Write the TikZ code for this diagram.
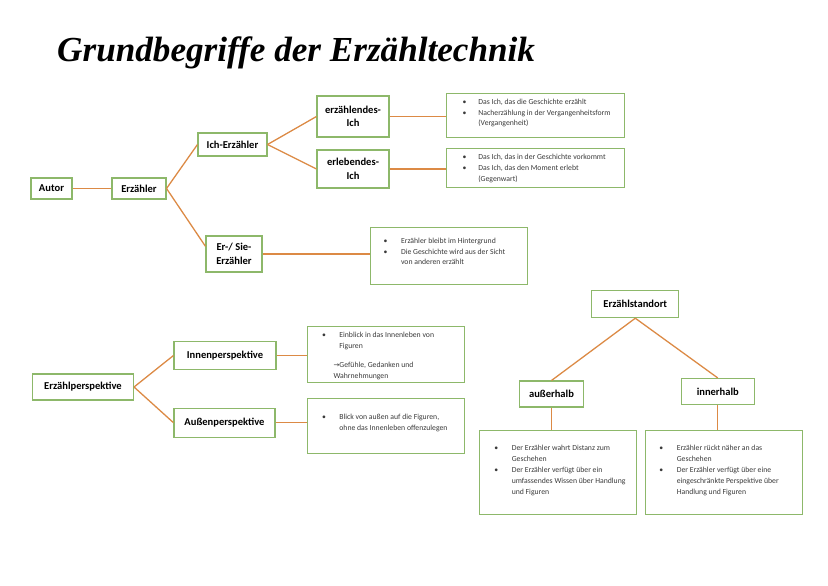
\documentclass[tikz,border=0pt]{standalone}
\usepackage{fontspec}
\setmainfont{Carlito}
\newfontfamily\titlefont{Liberation Serif}
\newfontfamily\symfont{DejaVu Sans}
\usetikzlibrary{positioning}
\definecolor{boxgreen}{HTML}{8DB86A}
\definecolor{linkorange}{HTML}{DC8A45}
\definecolor{notegray}{HTML}{3A3A3A}

\def \px {0.03cm} % one pixel of the sheet
\newcommand{\bul}[1][0.52cm]{\makebox[#1][l]{\textbullet}}

\begin{document}
\begin{tikzpicture}[x=\px, y=-\px,
  box/.style={draw=boxgreen, line width=0.9pt, inner sep=0pt, align=center,
    font=\bfseries\fontsize{9}{11.4}\selectfont},
  infobox/.style={draw=boxgreen, line width=0.9pt, inner sep=0pt, anchor=north west},
  note/.style={anchor=base west, inner sep=0pt, text=notegray,
    font=\fontsize{6.6}{9.3}\selectfont},
  link/.style={draw=linkorange, line width=1.1pt},
  wh/.style 2 args={minimum width=#1*\px, minimum height=#2*\px}]

\fill[white] (0,0) rectangle (828,586);
\useasboundingbox (0,0) rectangle (828,586);

\node[anchor=base west, inner sep=0pt,
  font=\titlefont\bfseries\itshape\fontsize{30}{32}\selectfont] (title) at (57,61)
  {Grundbegriffe der Erzähltechnik};

% Erzaehler
\node[box, wh={41}{21}] (autor) at (51.5,188.5) {Autor};
\node[box, wh={54}{21}] (erz) at (139,188.5) {Erzähler};
\node[box, wh={69}{23}] (ich) at (232.5,144.5) {Ich-Erzähler};
\node[box, wh={72}{41}] (erzich) at (353,116.5) {erzählendes-\\Ich};
\node[box, wh={72}{38}] (erlich) at (353,169) {erlebendes-\\Ich};
\node[box, wh={56}{36}] (ersie) at (234,254) {Er-/ Sie-\\Erzähler};

\node[infobox, wh={178}{44}] (erzinfo) at (446,93) {};
\node[infobox, wh={178}{39}] (erlinfo) at (446,148) {};
\node[infobox, wh={157}{57}] (ersieinfo) at (370,227) {};

\node[note] (erztext) at (462.5,104.2) {\begin{tabular}[t]{@{}l@{}l@{}}
  \bul[0.47cm] & Das Ich, das die Geschichte erzählt\\
  \bul[0.47cm] & Nacherzählung in der Vergangenheitsform\\
  & (Vergangenheit)
\end{tabular}};
\node[note] (erltext) at (462.5,159.8) {\begin{tabular}[t]{@{}l@{}l@{}}
  \bul[0.47cm] & Das Ich, das in der Geschichte vorkommt\\
  \bul[0.47cm] & Das Ich, das den Moment erlebt\\
  & (Gegenwart)
\end{tabular}};
\node[note] (ersietext) at (383.5,243.2) {\begin{tabular}[t]{@{}l@{}l@{}}
  \bul & Erzähler bleibt im Hintergrund\\
  \bul & Die Geschichte wird aus der Sicht\\
  & von anderen erzählt
\end{tabular}};

\draw[link] (autor) -- (erz);
\draw[link] (erz.east) -- (ich.west);
\draw[link] (erz.east) -- (ersie.165);
\draw[link] (ich.east) -- (erzich.west);
\draw[link] (ich.east) -- (erlich.west);
\draw[link] (erzich.east) -- (erzich.east -| erzinfo.west);
\draw[link] (erlich.east) -- (erlich.east -| erlinfo.west);
\draw[link] (ersie.east) -- (ersie.east -| ersieinfo.west);

% Erzaehlperspektive
\node[box, wh={101}{26}] (persp) at (83,387) {Erzählperspektive};
\node[box, wh={102}{28}] (innen) at (225,355.5) {Innenperspektive};
\node[box, wh={101}{29}] (aussen) at (224.5,422.7) {Außenperspektive};

\node[infobox, wh={157}{56}] (inneninfo) at (307,326) {};
\node[infobox, wh={157}{55}] (ausseninfo) at (307,398) {};

\node[note] (innentext) at (321.8,337.5) {\begin{tabular}[t]{@{}l@{}l@{}}
  \bul & Einblick in das Innenleben von\\
  & Figuren\\[7pt]
  \multicolumn{2}{@{}l@{}}{\hspace*{0.345cm}{\symfont\fontsize{6}{9.3}\selectfont →}Gefühle, Gedanken und}\\
  \multicolumn{2}{@{}l@{}}{\hspace*{0.345cm}Wahrnehmungen}
\end{tabular}};
\node[note] (aussentext) at (321.8,419.2) {\begin{tabular}[t]{@{}l@{}l@{}}
  \bul & Blick von außen auf die Figuren,\\
  & ohne das Innenleben offenzulegen
\end{tabular}};

\draw[link] (persp.east) -- (innen.west);
\draw[link] (persp.east) -- (aussen.west);
\draw[link] (innen.east) -- (innen.east -| inneninfo.west);
\draw[link] (aussen.east) -- (aussen.east -| ausseninfo.west);

% Erzaehlstandort
\node[box, wh={87}{27}] (standort) at (635.3,304.2) {Erzählstandort};
\node[box, wh={64}{26}] (ausserhalb) at (551.5,394) {außerhalb};
\node[box, wh={73}{26}] (innerhalb) at (717.8,391.5) {innerhalb};

\node[infobox, wh={157}{84}] (ausserinfo) at (479,430) {};
\node[infobox, wh={157}{84}] (innerinfo) at (645,430) {};

\node[note] (aussertext) at (494.2,450.8) {\begin{tabular}[t]{@{}l@{}l@{}}
  \bul & Der Erzähler wahrt Distanz zum\\
  & Geschehen\\
  \bul & Der Erzähler verfügt über ein\\
  & umfassendes Wissen über Handlung\\
  & und Figuren
\end{tabular}};
\node[note] (innertext) at (659.2,450.8) {\begin{tabular}[t]{@{}l@{}l@{}}
  \bul & Erzähler rückt näher an das\\
  & Geschehen\\
  \bul & Der Erzähler verfügt über eine\\
  & eingeschränkte Perspektive über\\
  & Handlung und Figuren
\end{tabular}};

\draw[link] (standort.south) -- (ausserhalb.north);
\draw[link] (standort.south) -- (innerhalb.north);
\draw[link] (ausserhalb.south) -- (ausserhalb.south |- ausserinfo.north);
\draw[link] (innerhalb.south) -- (innerhalb.south |- innerinfo.north);

\end{tikzpicture}
\end{document}
